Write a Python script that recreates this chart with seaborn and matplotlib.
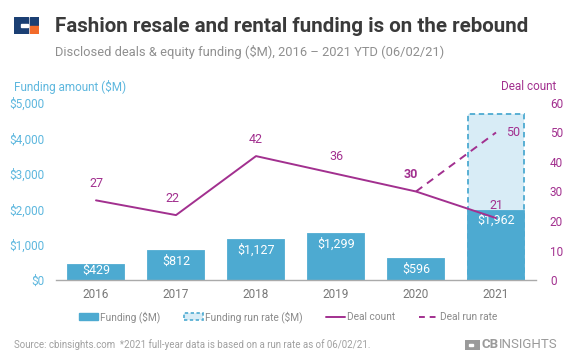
import matplotlib
matplotlib.use("Agg")
import matplotlib.pyplot as plt
import seaborn as sns
import pandas as pd
from matplotlib.patches import Patch, Rectangle
from matplotlib.lines import Line2D

years = ["2016", "2017", "2018", "2019", "2020", "2021"]
funding = [429, 812, 1127, 1299, 596, 1962]
funding_labels = ["$429", "$812", "$1,127", "$1,299", "$596", "$1,962"]
run_rate_funding = 4690
deals = [27, 22, 42, 36, 30, 21]
deal_run_years = ["2020", "2021"]
deal_run = [30, 50]
left_ticks = [0, 1000, 2000, 3000, 4000, 5000]
left_tick_labels = ["$0", "$1,000", "$2,000", "$3,000", "$4,000", "$5,000"]
right_ticks = [0, 10, 20, 30, 40, 50, 60]

BLUE = "#4DAAD1"
LIGHT = "#D8ECF6"
PURPLE = "#A2308F"
LBLUE = "#5DB7DE"
GRAY = "#8A8A8A"

sns.set_theme(style="white")
plt.rcParams["font.family"] = ["Roboto", "DejaVu Sans"]

fig = plt.figure(figsize=(5.72, 3.64), dpi=100)
W, H = 572, 364
ax = fig.add_axes([56 / W, (H - 280) / H, 480 / W, 177 / H])

df = pd.DataFrame({"year": years, "funding": funding})
rr = pd.DataFrame({"year": years, "val": [0, 0, 0, 0, 0, run_rate_funding]})
sns.barplot(data=rr, x="year", y="val", ax=ax, color=LIGHT, width=0.69,
            edgecolor=BLUE, linewidth=1.3, linestyle=(0, (3, 2)), saturation=1)
for p in ax.patches:
    if p.get_height() == 0:
        p.set_visible(False)
n_rr = len(ax.patches)
sns.barplot(data=df, x="year", y="funding", ax=ax, color=BLUE, width=0.69,
            saturation=1, edgecolor=BLUE, linewidth=1.3)
bars = ax.patches[n_rr:]
for b, lab in zip(bars, funding_labels):
    yc = max(b.get_height() - 280, 280)
    ax.text(b.get_x() + b.get_width() / 2, yc, lab,
            ha="center", va="center", color="white", fontsize=9)

ax.set_xlim(-0.5, 5.5)
ax.set_ylim(0, 5000)
ax.set_yticks(left_ticks)
ax.set_yticklabels(left_tick_labels)
ax.tick_params(axis="y", colors=LBLUE, labelsize=8.5, length=0, pad=8)
ax.tick_params(axis="x", colors="#777777", labelsize=8.5, length=0, pad=6)
ax.set_xlabel("")
ax.set_ylabel("")
for s in ["top", "right", "left"]:
    ax.spines[s].set_visible(False)
ax.spines["bottom"].set_color("#AAAAAA")
ax.spines["bottom"].set_linewidth(1)

ax2 = ax.twinx()
ddf = pd.DataFrame({"year": list(range(len(years))), "deals": deals})
sns.lineplot(data=ddf, x="year", y="deals", ax=ax2, color=PURPLE, linewidth=1.4)
rdf = pd.DataFrame({"year": [years.index(y) for y in deal_run_years], "deals": deal_run})
sns.lineplot(data=rdf, x="year", y="deals", ax=ax2, color=PURPLE, linewidth=1.4,
             linestyle=(0, (4, 3)))
ax2.set_ylim(0, 60)
ax2.set_xlim(-0.5, 5.5)
ax2.set_yticks(right_ticks)
ax2.tick_params(axis="y", colors=PURPLE, labelsize=8.5, length=0, pad=10)
ax2.set_xlabel("")
ax2.set_ylabel("")
for s in ["top", "right", "left", "bottom"]:
    ax2.spines[s].set_visible(False)

offsets = [(0, 3.5), (-0.05, 3.5), (0, 3.5), (0, 3.5), (-0.06, 3.5), (0, 2.0)]
for i, v in enumerate(deals):
    dx, dy = offsets[i]
    ax2.text(i + dx, v + dy, str(v), ha="center", va="bottom", color=PURPLE,
             fontsize=9, fontweight="bold" if i == 4 else "normal")
ax2.text(5 + 0.12, deal_run[1], str(deal_run[1]), ha="left", va="center",
         color=PURPLE, fontsize=9)

fig.text(14 / W, 1 - 87 / H, "Funding amount ($M)", color=LBLUE, fontsize=8.5,
         ha="left", va="center")
fig.text(556 / W, 1 - 87 / H, "Deal count", color=PURPLE, fontsize=8.5,
         ha="right", va="center")

fig.text(55 / W, 1 - 26 / H, "Fashion resale and rental funding is on the rebound",
         color="#3A3A3A", fontsize=14.8, fontweight="bold", ha="left", va="center")
fig.text(55 / W, 1 - 52 / H, "Disclosed deals & equity funding ($M), 2016 \u2013 2021 YTD (06/02/21)",
         color="#8F8F8F", fontsize=9.25, ha="left", va="center")

lax = fig.add_axes([14 / W, 1 - 34 / H, 25 / W, 17 / H])
lax.set_xlim(0, 25)
lax.set_ylim(0, 17)
lax.axis("off")
lax.add_patch(Rectangle((0, 0), 14, 17, color="#1B3F73"))
lax.add_patch(Rectangle((15.5, 9.2), 9.5, 7.8, color="#1B3F73"))
lax.add_patch(Rectangle((15.5, 0), 9.5, 7.8, color="#F26B2A"))
lax.add_patch(Rectangle((7, 7), 7, 3, color="white"))

handles = [
    Patch(facecolor=BLUE, edgecolor=BLUE, label="Funding ($M)"),
    Patch(facecolor=LIGHT, edgecolor=BLUE, linestyle=(0, (2, 1.5)), linewidth=1.2,
          label="Funding run rate ($M)"),
    Line2D([0], [0], color=PURPLE, lw=1.4, label="Deal count"),
    Line2D([0], [0], color=PURPLE, lw=1.4, linestyle=(0, (3, 2.5)), label="Deal run rate"),
]
leg = fig.legend(handles=handles, loc="center", bbox_to_anchor=(288 / W, 1 - 317 / H),
                 ncol=4, frameon=False, fontsize=7.3, handlelength=1.9,
                 handletextpad=0.2, columnspacing=2.3)
for t in leg.get_texts():
    t.set_color(GRAY)

fig.text(14 / W, 1 - 345 / H,
         "Source: cbinsights.com  *2021 full-year data is based on a run rate as of 06/02/21.",
         color="#A0A0A0", fontsize=7.05, ha="left", va="center")

# CB Insights logo
t_ins = fig.text(558 / W, 1 - 345 / H, "INSIGHTS", color="#9A9A9A", fontsize=9.5,
                 ha="right", va="center")
fig.canvas.draw()
bb = t_ins.get_window_extent()
t_cb = fig.text((bb.x0 - 0.5) / W, 1 - 345 / H, "CB", color="#9A9A9A", fontsize=9.5,
                fontweight="bold", ha="right", va="center")
fig.canvas.draw()
bb2 = t_cb.get_window_extent()
icon_right = bb2.x0 - 2
cax = fig.add_axes([(icon_right - 15) / W, 1 - 350 / H, 15 / W, 10 / H])
cax.set_xlim(0, 15)
cax.set_ylim(0, 10)
cax.axis("off")
cax.add_patch(Rectangle((0, 0), 8.5, 10, color="#9A9A9A"))
cax.add_patch(Rectangle((9.5, 5.5), 5.5, 4.5, color="#9A9A9A"))
cax.add_patch(Rectangle((9.5, 0), 5.5, 4.5, color="#9A9A9A"))
cax.add_patch(Rectangle((4.5, 4), 4, 2, color="white"))

fig.savefig("out.png", dpi=100)
